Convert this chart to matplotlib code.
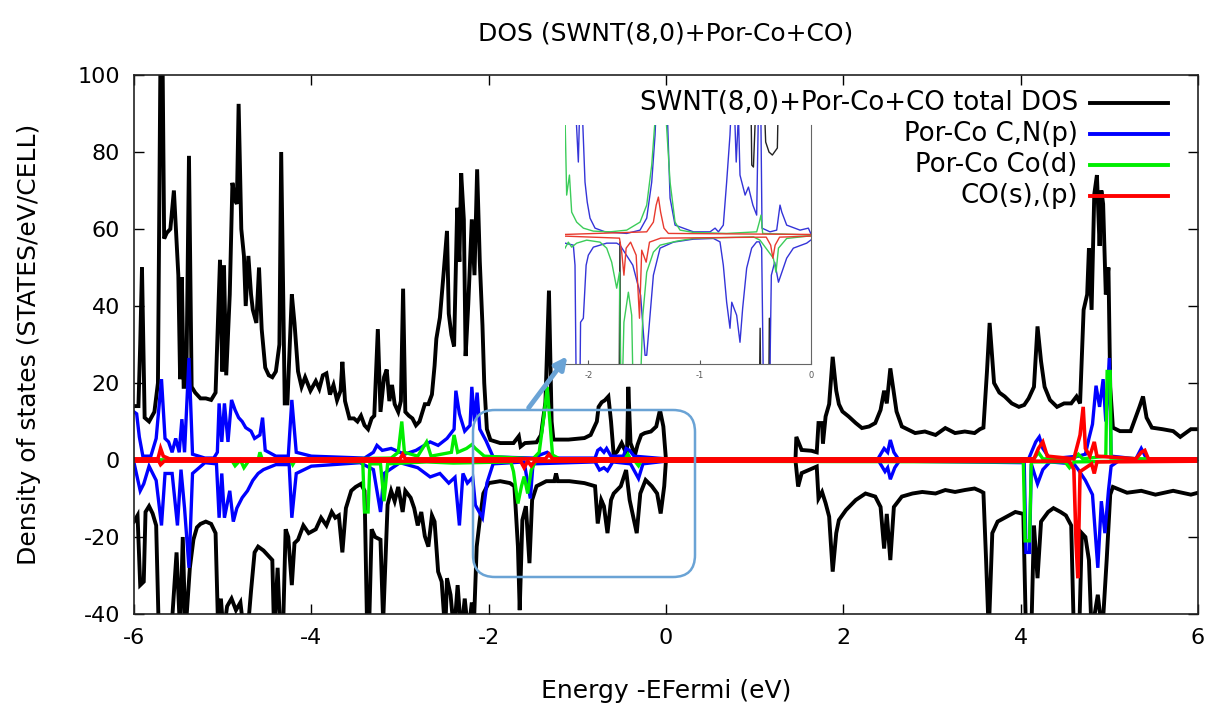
import matplotlib
matplotlib.use('Agg')
import matplotlib.pyplot as plt
from matplotlib.lines import Line2D
from matplotlib.patches import FancyBboxPatch, FancyArrowPatch
from matplotlib.transforms import IdentityTransform
import numpy as np

plt.rcParams['font.family'] = 'DejaVu Sans'
plt.rcParams['axes.unicode_minus'] = False

# (energy - EFermi [eV], DOS [states/eV/cell])
total_up = [(-6.00, 14), (-5.95, 14), (-5.93, 30), (-5.91, 50), (-5.88, 11), (-5.83, 10), (-5.77, 12.5),
            (-5.73, 20), (-5.70, 110), (-5.68, 110), (-5.66, 57.5), (-5.63, 59), (-5.59, 60), (-5.55, 70),
            (-5.52, 57), (-5.50, 48), (-5.48, 21), (-5.46, 47.5), (-5.44, 19), (-5.41, 19), (-5.38, 79),
            (-5.35, 19), (-5.31, 17.5), (-5.25, 16), (-5.19, 16), (-5.13, 15.6), (-5.08, 17.5), (-5.03, 52),
            (-5.005, 23), (-4.985, 50.6), (-4.96, 22), (-4.92, 43), (-4.89, 72), (-4.86, 67.5), (-4.84, 66.5),
            (-4.82, 92.5), (-4.79, 60), (-4.76, 53), (-4.74, 40), (-4.71, 53), (-4.68, 43), (-4.66, 39),
            (-4.62, 35.6), (-4.59, 50), (-4.56, 34), (-4.52, 24), (-4.48, 22), (-4.44, 21.5), (-4.40, 23),
            (-4.36, 30), (-4.34, 80), (-4.30, 14.7), (-4.27, 14.7), (-4.22, 43), (-4.19, 35.6), (-4.15, 23),
            (-4.11, 19), (-4.07, 21.5), (-4.01, 18), (-3.95, 20.5), (-3.91, 18.5), (-3.87, 22), (-3.83, 22.5),
            (-3.79, 17), (-3.75, 19.5), (-3.71, 15.5), (-3.67, 18), (-3.65, 25.5), (-3.62, 15.3), (-3.57, 10.8),
            (-3.52, 10.8), (-3.48, 10), (-3.44, 11.5), (-3.40, 9), (-3.36, 8), (-3.32, 10.8), (-3.29, 11.5),
            (-3.25, 34), (-3.22, 12.5), (-3.18, 21.5), (-3.15, 23.5), (-3.12, 15.3), (-3.09, 19.5), (-3.06, 14.5),
            (-3.02, 12.5), (-2.99, 15.3), (-2.965, 44.5), (-2.94, 12.5), (-2.90, 11.5), (-2.86, 10.8), (-2.82, 9),
            (-2.78, 10), (-2.72, 14.5), (-2.68, 14.5), (-2.64, 17), (-2.61, 24.5), (-2.59, 31.5), (-2.55, 37),
            (-2.51, 48), (-2.47, 59.5), (-2.45, 38), (-2.42, 32.5), (-2.39, 29.5), (-2.355, 65.5), (-2.33, 51.5),
            (-2.31, 74.5), (-2.28, 62.5), (-2.26, 27), (-2.23, 40.5), (-2.19, 62.5), (-2.16, 48), (-2.13, 75.5),
            (-2.10, 51.5), (-2.07, 35), (-2.05, 20), (-2.02, 8), (-1.98, 5.2), (-1.87, 4.4), (-1.72, 4.4),
            (-1.66, 6.2), (-1.64, 3.5), (-1.59, 4.4), (-1.46, 4.6), (-1.41, 6.5), (-1.36, 15), (-1.32, 44),
            (-1.29, 10), (-1.27, 5.3), (-1.10, 5.3), (-0.92, 5.7), (-0.85, 6.5), (-0.78, 10), (-0.76, 13.8),
            (-0.725, 15), (-0.69, 15.5), (-0.65, 16.5), (-0.62, 10), (-0.59, 1.3), (-0.55, 2.2), (-0.50, 4.4),
            (-0.44, 1.3), (-0.425, 19), (-0.40, 4.4), (-0.35, 1.3), (-0.32, 4), (-0.28, 6.5), (-0.24, 7),
            (-0.17, 7.4), (-0.11, 8.7), (-0.068, 13), (-0.03, 8.7), (0.0, 0), (1.46, 0), (1.47, 6), (1.53, 2.6),
            (1.64, 2.4), (1.70, 2.0), (1.72, 9.6), (1.76, 9.6), (1.77, 4.3), (1.80, 11.3), (1.84, 14.5),
            (1.88, 26.8), (1.92, 18), (1.95, 14.5), (1.99, 12.6), (2.06, 11.3), (2.14, 9.6), (2.21, 8.3),
            (2.29, 8.7), (2.36, 9.6), (2.42, 13), (2.46, 18), (2.49, 14.7), (2.53, 23.8), (2.57, 17.5),
            (2.60, 12.6), (2.66, 8.7), (2.74, 7.8), (2.81, 7), (2.92, 7.4), (3.04, 6.5), (3.15, 8.3), (3.26, 7),
            (3.37, 7.4), (3.48, 7), (3.54, 8), (3.58, 8.4), (3.62, 23), (3.65, 35.6), (3.70, 20), (3.76, 17.5),
            (3.82, 16.5), (3.90, 14.7), (3.98, 13.8), (4.04, 14.3), (4.09, 16), (4.15, 19), (4.19, 34.7),
            (4.23, 25.6), (4.27, 19), (4.33, 15.6), (4.41, 13.8), (4.49, 14.7), (4.57, 14.7), (4.63, 16.5),
            (4.67, 14.7), (4.71, 39), (4.75, 43), (4.77, 55), (4.80, 39), (4.83, 69), (4.86, 74), (4.89, 55.6),
            (4.91, 70), (4.93, 66.5), (4.96, 43), (4.99, 50), (5.01, 19), (5.04, 8.4), (5.12, 7.5), (5.24, 7.5),
            (5.34, 13.8), (5.38, 16.5), (5.42, 11), (5.48, 8.4), (5.60, 8), (5.72, 7.5), (5.80, 6), (5.92, 8),
            (6.00, 8)]

total_dn = [(-6.00, -16), (-5.96, -14.4), (-5.93, -32.5), (-5.89, -31.6), (-5.87, -13.5), (-5.83, -12),
            (-5.79, -13.9), (-5.75, -17), (-5.72, -45), (-5.58, -45), (-5.52, -24), (-5.48, -45), (-5.45, -20),
            (-5.42, -45), (-5.37, -28), (-5.33, -20.7), (-5.29, -17.5), (-5.25, -16.6), (-5.19, -16),
            (-5.13, -16.6), (-5.08, -19), (-5.05, -45), (-5.02, -36), (-4.99, -45), (-4.95, -38), (-4.90, -36),
            (-4.85, -39), (-4.80, -37), (-4.76, -45), (-4.72, -45), (-4.68, -34), (-4.64, -24), (-4.60, -22.5),
            (-4.54, -23.5), (-4.48, -25), (-4.44, -26), (-4.42, -45), (-4.38, -28), (-4.35, -45), (-4.32, -45),
            (-4.29, -18), (-4.26, -20), (-4.22, -32.5), (-4.19, -21.6), (-4.15, -20.7), (-4.09, -17),
            (-4.03, -19), (-3.95, -18), (-3.89, -15), (-3.83, -17), (-3.77, -13.5), (-3.73, -15), (-3.69, -14.4),
            (-3.65, -24), (-3.61, -12.5), (-3.55, -8), (-3.50, -7), (-3.44, -6.2), (-3.40, -8), (-3.37, -45),
            (-3.35, -45), (-3.32, -18), (-3.28, -20), (-3.22, -20.7), (-3.19, -42), (-3.14, -11.6), (-3.10, -8),
            (-3.06, -10.7), (-3.02, -7), (-2.97, -13.5), (-2.94, -8), (-2.88, -9.8), (-2.84, -12.5), (-2.80, -17),
            (-2.76, -13.5), (-2.72, -19.8), (-2.68, -22.5), (-2.64, -14.4), (-2.61, -16), (-2.57, -29),
            (-2.53, -31.6), (-2.49, -45), (-2.47, -30.7), (-2.43, -35), (-2.39, -45), (-2.35, -32.5), (-2.31, -45),
            (-2.27, -36), (-2.23, -45), (-2.19, -37), (-2.17, -45), (-2.135, -22.5), (-2.10, -15.6), (-2.06, -8.7),
            (-2.00, -6), (-1.87, -5.5), (-1.76, -6), (-1.71, -6.8), (-1.67, -22.5), (-1.65, -39), (-1.62, -15.6),
            (-1.58, -12), (-1.54, -26.8), (-1.51, -10.4), (-1.46, -6.8), (-1.35, -5.5), (-1.26, -5.5),
            (-1.24, -3.5), (-1.22, -5.5), (-1.09, -5.5), (-0.92, -6), (-0.80, -6.8), (-0.77, -16.5),
            (-0.73, -10.4), (-0.70, -12), (-0.66, -19), (-0.62, -10.4), (-0.59, -8.7), (-0.51, -6.8),
            (-0.45, -2.6), (-0.41, -10.4), (-0.37, -14.7), (-0.33, -19), (-0.29, -8.7), (-0.23, -5.2),
            (-0.16, -6.8), (-0.10, -8.7), (-0.06, -13.9), (-0.02, -6.8), (0.0, 0), (1.46, 0), (1.49, -6.9),
            (1.53, -3.4), (1.70, -1.7), (1.72, -10), (1.76, -8.3), (1.80, -11.2), (1.84, -14.7), (1.88, -29),
            (1.92, -19), (1.95, -15.6), (2.03, -13), (2.14, -10.4), (2.25, -8.7), (2.36, -9.5), (2.42, -12.2),
            (2.46, -23), (2.49, -14), (2.53, -26), (2.57, -12.2), (2.66, -9.5), (2.78, -8.7), (2.89, -8.3),
            (3.04, -8.7), (3.15, -7.8), (3.26, -8.3), (3.37, -7.8), (3.48, -7.4), (3.54, -8), (3.58, -8.5),
            (3.61, -26), (3.64, -45), (3.68, -19), (3.74, -16), (3.82, -15), (3.94, -13.5), (4.03, -14),
            (4.06, -45), (4.12, -45), (4.15, -17), (4.19, -30.7), (4.23, -16), (4.31, -13.5), (4.37, -12.5),
            (4.45, -13.5), (4.51, -14.4), (4.57, -17), (4.60, -45), (4.66, -45), (4.69, -19), (4.73, -20),
            (4.77, -26), (4.80, -45), (4.87, -35), (4.92, -45), (4.97, -26), (5.01, -9), (5.04, -7), (5.20, -8.5),
            (5.36, -8), (5.52, -9), (5.72, -8), (5.92, -9), (6.00, -8.5)]

cn_up = [(-6.00, 12.5), (-5.97, 12), (-5.94, 6), (-5.90, 1), (-5.81, 1), (-5.75, 5.6), (-5.69, 21), (-5.65, 5.6),
         (-5.61, 4.7), (-5.57, 2), (-5.53, 5.6), (-5.49, 2), (-5.46, 10.6), (-5.43, 2), (-5.38, 26.5),
         (-5.34, 1.5), (-5.20, 0.5), (-5.10, 0.5), (-5.06, 2), (-5.04, 14.7), (-5.01, 4.7), (-4.98, 14.7),
         (-4.94, 4.7), (-4.90, 15.6), (-4.86, 13), (-4.82, 11), (-4.78, 10), (-4.74, 8.4), (-4.68, 7.5),
         (-4.64, 5.6), (-4.58, 6.5), (-4.55, 11), (-4.52, 2.5), (-4.40, 1), (-4.26, 1), (-4.22, 15.6),
         (-4.17, 2), (-4.00, 1), (-3.40, 0.5), (-3.30, 2), (-3.26, 3.8), (-3.20, 2.5), (-3.10, 3), (-2.95, 1.5),
         (-2.82, 2.5), (-2.66, 4.7), (-2.57, 3.8), (-2.47, 5.6), (-2.39, 8), (-2.37, 18), (-2.33, 12),
         (-2.27, 7.5), (-2.21, 9), (-2.19, 19), (-2.16, 10), (-2.13, 17.5), (-2.10, 8), (-2.03, 5),
         (-1.95, 0.8), (-1.50, 0.5), (-1.40, 1.5), (-1.34, 2), (-1.25, 0.5), (-0.80, 0.5), (-0.77, 2.5),
         (-0.74, 3), (-0.70, 2), (-0.67, 3), (-0.62, 1), (-0.48, 1), (-0.45, 3), (-0.41, 2.5), (-0.36, 1),
         (0.0, 0.3), (2.39, 0.3), (2.46, 3), (2.50, 2), (2.53, 5.2), (2.57, 2), (2.62, 0.3), (4.09, 0.3),
         (4.17, 4.7), (4.21, 6), (4.25, 3), (4.33, 0.3), (4.65, 1), (4.73, 1.5), (4.77, 5.6), (4.81, 9.3),
         (4.85, 19.3), (4.89, 13.8), (4.93, 21), (4.96, 10), (5.00, 26.5), (5.02, 1), (5.30, 0.3), (5.36, 3),
         (5.42, 0.3), (6.00, 0.3)]

cn_dn = [(-6.00, -0.7), (-5.93, -8), (-5.89, -6.2), (-5.83, -1.6), (-5.75, -5.3), (-5.69, -17), (-5.65, -3.5),
         (-5.57, -3.5), (-5.51, -17), (-5.47, -2.5), (-5.43, -12.5), (-5.38, -28), (-5.34, -3.5), (-5.20, -0.7),
         (-5.07, -1), (-5.04, -15), (-5.01, -3.5), (-4.98, -15), (-4.92, -8), (-4.88, -16), (-4.84, -12.5),
         (-4.78, -9.8), (-4.72, -8), (-4.66, -5.3), (-4.60, -3.5), (-4.54, -2.5), (-4.40, -1.2), (-4.25, -1.2),
         (-4.22, -15), (-4.17, -3.5), (-4.00, -1.6), (-3.45, -0.7), (-3.30, -2.5), (-3.22, -13.5), (-3.18, -3.5),
         (-3.00, -0.7), (-2.80, -2), (-2.66, -4.4), (-2.55, -3.5), (-2.45, -6), (-2.38, -4.5), (-2.33, -17),
         (-2.29, -3.5), (-2.24, -6), (-2.18, -4.5), (-2.15, -11.7), (-2.07, -15), (-2.02, -6), (-1.95, -1),
         (-1.60, -0.5), (-1.53, -10), (-1.50, -1), (-0.80, -0.5), (-0.75, -2.6), (-0.70, -2), (-0.66, -2.8),
         (-0.60, -0.5), (-0.40, -1), (-0.31, -4.8), (-0.26, -1), (0.0, -0.3), (2.40, -0.3), (2.47, -3),
         (2.50, -2), (2.53, -5), (2.58, -2), (2.63, -0.3), (4.04, -0.7), (4.06, -24), (4.10, -24), (4.12, -1),
         (4.19, -6.2), (4.25, -2.5), (4.33, -0.5), (4.60, -1), (4.65, -2.5), (4.73, -5.3), (4.81, -9),
         (4.87, -28), (4.91, -10.7), (4.95, -19), (4.99, -8), (5.02, -1.6), (5.10, -0.3), (6.00, -0.3)]

cod_up = [(-6.0, 0), (-4.60, 0), (-4.58, 2), (-4.55, 0), (-3.10, 0.5), (-3.02, 2), (-2.98, 10), (-2.95, 2),
          (-2.80, 1), (-2.70, 4.7), (-2.65, 1), (-2.42, 2), (-2.39, 6.5), (-2.35, 2), (-2.25, 3), (-2.19, 4),
          (-2.15, 3), (-2.05, 1), (-1.50, 0.3), (-1.43, 2), (-1.38, 10.8), (-1.34, 19), (-1.31, 10),
          (-1.28, 1.3), (-1.20, 0.3), (-0.46, 0.3), (-0.43, 1.5), (-0.40, 0.3), (4.15, 0.3), (4.20, 2),
          (4.25, 0.3), (4.60, 0.3), (4.65, 1.5), (4.70, 0.3), (4.96, 1), (4.975, 23), (5.01, 23), (5.02, 0.5),
          (6.0, 0)]

cod_dn = [(-6.0, 0), (-4.90, 0), (-4.86, -1.5), (-4.80, 0), (-4.76, -2), (-4.70, 0), (-4.23, -0.3),
          (-4.21, -1.2), (-4.18, 0), (-3.42, -0.5), (-3.40, -13.5), (-3.36, -13.5), (-3.34, -1), (-3.22, -1),
          (-3.18, -10.7), (-3.14, -1), (-2.70, -0.5), (-2.40, -0.8), (-1.75, -0.5), (-1.72, -3), (-1.67, -11.3),
          (-1.63, -6.8), (-1.60, -4.3), (-1.56, -8.7), (-1.52, -2.6), (-1.47, -0.3), (-0.35, -0.3),
          (-0.31, -1.5), (-0.28, -0.3), (4.03, -0.5), (4.05, -21), (4.10, -21), (4.12, -0.5), (4.50, -0.5),
          (4.55, -2), (4.60, -0.5), (6.0, 0)]

mol_up = [(-6.0, 0.3), (-5.73, 0.3), (-5.70, 3), (-5.67, 1), (-5.60, 0.3), (-3.00, 0.3), (-2.97, 1.5),
          (-2.94, 0.3), (-1.36, 0.3), (-1.32, 1.5), (-1.28, 0.3), (4.15, 0.3), (4.20, 3), (4.25, 4.7), (4.30, 1),
          (4.60, 0.3), (4.67, 6.5), (4.705, 13.8), (4.73, 3), (4.78, 1), (4.83, 4.7), (4.86, 1), (5.30, 0.3),
          (5.36, 2), (5.40, 2.5), (5.44, 0.3), (6.0, 0.3)]

mol_dn = [(-6.0, -0.3), (-5.72, -0.3), (-5.70, -1.2), (-5.66, -0.3), (-1.64, -0.3), (-1.60, -2), (-1.56, -0.3),
          (-1.52, -1.5), (-1.48, -0.3), (4.55, -0.3), (4.60, -2.5), (4.625, -21.6), (4.645, -30.7), (4.67, -3),
          (4.80, -1), (4.83, -3.5), (4.86, -0.5), (6.0, -0.3)]

# zoomed inset around -2.2 .. 0 eV (own vertical scale)
ins_total_up = [(-2.21, 20), (-0.545, 20), (-0.53, 7), (-0.515, 6.8), (-0.47, 20), (-0.44, 20), (-0.405, 9.3),
                (-0.375, 8.3), (-0.345, 8), (-0.30, 8.7), (-0.28, 20), (0.0, 20)]
ins_total_dn = [(-2.21, -20), (-1.725, -20), (-1.716, -0.7), (-1.708, -20), (-0.465, -20), (-0.455, -9.3),
                (-0.445, -20), (-0.38, -20), (-0.372, -8.3), (-0.365, -20), (0.0, -20)]
ins_cn_up = [(-2.21, 14), (-2.12, 14), (-2.09, 7.3), (-2.075, 14), (-2.06, 14), (-2.03, 5.3), (-2.01, 3.3),
             (-1.985, 1.7), (-1.94, 0.7), (-1.85, 0.33), (-1.655, 0.17), (-1.535, 0.5), (-1.475, 1.7),
             (-1.43, 5.3), (-1.40, 10), (-1.385, 14), (-1.295, 14), (-1.265, 3.7), (-1.22, 1), (-1.055, 0.33),
             (-0.905, 0.33), (-0.86, 0.7), (-0.83, 0.33), (-0.786, 1), (-0.756, 5.3), (-0.726, 10), (-0.71, 14),
             (-0.69, 14), (-0.67, 7.3), (-0.65, 12), (-0.636, 6), (-0.59, 4), (-0.56, 4.8), (-0.52, 3),
             (-0.486, 2), (-0.468, 14), (-0.45, 14), (-0.438, 0.7), (-0.366, 0.33), (-0.306, 0.5), (-0.276, 3),
             (-0.26, 2.3), (-0.216, 1), (-0.096, 0.5), (-0.021, 0.7), (0.0, 0.17)]
ins_cn_dn = [(-2.21, -0.8), (-2.135, -1), (-2.12, -3), (-2.105, -20), (-2.08, -20), (-2.07, -8.7), (-2.045, -8.3),
             (-2.02, -3), (-2.0, -2), (-1.955, -1.2), (-1.835, -0.8), (-1.745, -0.8), (-1.715, -1), (-1.60, -3),
             (-1.53, -6), (-1.49, -12), (-1.475, -12), (-1.415, -4), (-1.355, -1.3), (-1.235, -0.7),
             (-1.055, -0.4), (-0.875, -0.33), (-0.816, -0.67), (-0.786, -3), (-0.756, -6.7), (-0.726, -9.3),
             (-0.71, -6.7), (-0.69, -7.3), (-0.666, -8), (-0.636, -10.7), (-0.612, -7.3), (-0.576, -3.3),
             (-0.531, -1.3), (-0.486, -0.67), (-0.462, -0.67), (-0.441, -1.3), (-0.42, -20), (-0.375, -20),
             (-0.354, -4), (-0.324, -2.7), (-0.29, -4.7), (-0.216, -2.3), (-0.156, -1.3), (-0.036, -0.8),
             (0.0, -0.5)]
ins_cod_up = [(-2.21, 12), (-2.195, 4), (-2.17, 6), (-2.15, 2.3), (-2.105, 1.3), (-2.045, 0.7), (-1.955, 0.4),
              (-1.805, 0.33), (-1.655, 0.5), (-1.535, 1.3), (-1.475, 3), (-1.43, 7), (-1.40, 11.5), (-1.36, 25),
              (-1.30, 11.5), (-1.265, 5.3), (-1.22, 1.3), (-1.175, 0.5), (-1.055, 0.27), (-0.756, 0.17),
              (-0.486, 0.33), (-0.462, 1.3), (-0.447, 2), (-0.432, 0.17), (-0.156, 0.07), (0.0, 0)]
ins_cod_dn = [(-2.21, -1.3), (-2.18, -0.7), (-2.15, -1.2), (-2.105, -0.8), (-2.015, -0.5), (-1.895, -0.7),
              (-1.835, -1.3), (-1.79, -2.7), (-1.745, -5.3), (-1.72, -3.7), (-1.705, -20), (-1.68, -8.7),
              (-1.64, -5.7), (-1.61, -8), (-1.59, -20), (-1.547, -20), (-1.51, -8), (-1.475, -3.7),
              (-1.415, -1.7), (-1.355, -1), (-1.205, -0.6), (-1.055, -0.33), (-0.516, -0.17), (-0.456, -0.5),
              (-0.336, -2.3), (-0.312, -3.7), (-0.29, -1.3), (-0.216, -0.33), (0.0, -0.07)]
ins_mol_up = [(-2.21, 0.07), (-1.475, 0.33), (-1.415, 1.3), (-1.39, 3), (-1.37, 3.8), (-1.35, 2.3),
              (-1.32, 0.7), (-1.28, 0.17), (0.0, 0.07)]
ins_mol_dn = [(-2.21, -0.1), (-1.72, -0.3), (-1.70, -1.7), (-1.68, -4), (-1.66, -1.3), (-1.62, -0.7),
              (-1.57, -2), (-1.54, -8.3), (-1.52, -1.5), (-1.48, -2.7), (-1.45, -0.7), (-1.35, -0.3),
              (-0.40, -0.2), (-0.36, -1), (-0.34, -2.3), (-0.32, -1), (-0.28, -0.2), (0.0, -0.1)]

labels = ['SWNT(8,0)+Por-Co+CO total DOS', 'Por-Co C,N(p)', 'Por-Co Co(d)', 'CO(s),(p)']
colors = ['#000000', '#0000ff', '#00ee00', '#ff0000']

W, H = 1211, 714
fig = plt.figure(figsize=(W / 100, H / 100), dpi=100)
ax = fig.add_axes([134 / W, 1 - 614 / H, 1064 / W, 539 / H])

series = [(total_up, total_dn), (cn_up, cn_dn), (cod_up, cod_dn), (mol_up, mol_dn)]
widths = [2.8, 2.4, 2.4, 2.6]
for (up, dn), c, lw in zip(series, colors, widths):
    for s in (up, dn):
        e, v = np.array(s).T
        ax.plot(e, v, color=c, lw=lw, solid_joinstyle='miter')

ax.set_xlim(-6, 6)
ax.set_ylim(-40, 100)
ax.set_xticks(np.arange(-6, 7, 2))
ax.set_yticks(np.arange(-40, 101, 20))
ax.tick_params(direction='in', length=7, width=1, top=True, right=True, labelsize=16, pad=10)
for sp in ax.spines.values():
    sp.set_linewidth(1.2)
    sp.set_color('#222222')

ax.set_title('DOS (SWNT(8,0)+Por-Co+CO)', fontsize=18, pad=25)
ax.set_xlabel('Energy -EFermi (eV)', fontsize=18)
ax.set_ylabel('Density of states (STATES/eV/CELL)', fontsize=18)
ax.xaxis.set_label_coords(0.5, -0.12)
ax.yaxis.set_label_coords(-0.087, 0.5)

# gnuplot style key: text right-aligned, sample to its right
key_y = [0.948, 0.8905, 0.833, 0.7755]
for lab, c, y in zip(labels, colors, key_y):
    ax.text(0.887, y, lab, transform=ax.transAxes, ha='right', va='center', fontsize=18.7)
    ax.add_line(Line2D([0.8985, 0.972], [y, y], transform=ax.transAxes, color=c, lw=2.8))

# highlight box and arrow towards the inset
box_col = '#6aa3d5'
box = FancyBboxPatch((473, H - 577), 222, 167, boxstyle='round,pad=0,rounding_size=22',
                     transform=IdentityTransform(), fill=False, ec=box_col, lw=1.8, zorder=6)
fig.add_artist(box)
arrow = FancyArrowPatch((527, H - 410), (569, H - 354), transform=IdentityTransform(),
                        arrowstyle='-|>', mutation_scale=18, lw=3.5, color=box_col, zorder=6)
fig.add_artist(arrow)

# inset
axi = fig.add_axes([565 / W, 1 - 364.3 / H, 245.7 / W, 239.3 / H], zorder=5)
axi.set_facecolor('white')
ins_series = [(ins_total_up, ins_total_dn), (ins_cn_up, ins_cn_dn), (ins_cod_up, ins_cod_dn),
              (ins_mol_up, ins_mol_dn)]
ins_colors = ['#222222', '#3434d8', '#3ccc5a', '#e83a2e']
for (up, dn), c in zip(ins_series, ins_colors):
    for s in (up, dn):
        e, v = np.array(s).T
        axi.plot(e, v, color=c, lw=1.0)
axi.set_xlim(-2.21, 0.0)
axi.set_ylim(-12.9, 11)
axi.set_xticks([-2, -1, 0])
axi.set_xticklabels(['-2', '-1', '0'])
axi.set_yticks([])
axi.tick_params(axis='x', direction='in', length=3, labelsize=6, colors='#555555', pad=5)
axi.spines['top'].set_visible(False)
axi.spines['left'].set_visible(False)
axi.spines['bottom'].set_color('#666666')
axi.spines['right'].set_color('#666666')

fig.savefig('out.png', dpi=100)
